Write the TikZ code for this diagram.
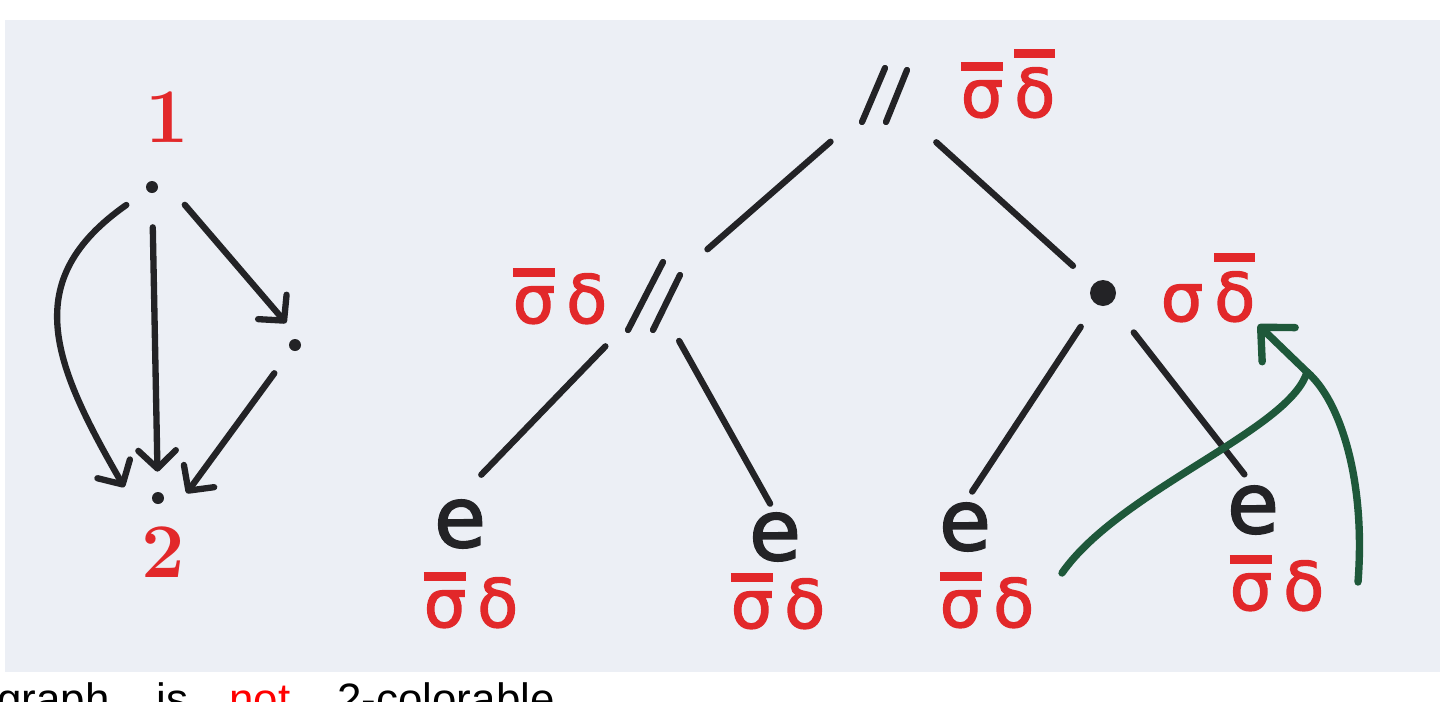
\documentclass[tikz,border=0pt]{standalone}
\usepackage{fontspec}
\newfontfamily\slidefont{Liberation Sans}
\newfontfamily\greekfont[FakeBold=2]{DejaVu Sans}
\usetikzlibrary{arrows.meta}
\definecolor{ink}{RGB}{35,35,38}
\definecolor{pen}{RGB}{226,40,42}
\definecolor{marker}{RGB}{30,88,58}
\definecolor{paper}{RGB}{236,239,245}
\definecolor{slidered}{RGB}{255,0,0}
% a glyph with a bar drawn over it
\newcommand\barglyph[1]{\setbox0=\hbox{#1}%
  \hbox{\rlap{\raisebox{\dimexpr\ht0+0.14em\relax}{\rule{\wd0}{0.13em}}}\box0}}
\tikzset{
  dot/.style={circle, fill=ink, inner sep=0pt, minimum size=0.24cm},
  bigdot/.style={circle, fill=ink, inner sep=0pt, minimum size=0.52cm},
  pair/.style={inner sep=0pt, minimum size=1.2cm},
  leaf/.style={inner sep=0pt, anchor=base, text=ink,
    font=\greekfont\fontsize{48}{48}\selectfont},
  redlab/.style={inner sep=0pt, anchor=base, text=pen,
    font=\greekfont\fontsize{38}{38}\selectfont},
  digit/.style={inner sep=0pt, anchor=base, text=pen,
    font=\fontsize{44}{44}\selectfont\bfseries},
  edge/.style={line width=3.6pt, draw=ink, line cap=round},
  arrow/.style={edge, -{Straight Barb[length=0.36cm, width=0.75cm, round]}},
  hint/.style={line width=4.2pt, draw=marker, line cap=round},
  hintarrow/.style={hint, -{Straight Barb[length=0.5cm, width=0.95cm, round]}},
  caption/.style={inner sep=0pt, anchor=base west,
    font=\slidefont\fontsize{25}{25}\selectfont},
}
\begin{document}
\begin{tikzpicture}[x=0.02cm, y=-0.02cm]

\path[use as bounding box, clip] (0,0) rectangle (1440,701);
\fill[white] (0,0) rectangle (1440,701);
\fill[paper] (5,20) rectangle (1440,672);

% --- Small graph ---
\node[dot] (v1) at (152,187) {};
\node[dot] (v3) at (295,345) {};
\node[dot] (v2) at (158,498) {};
\node[digit] (one) at (167,142) {1};
\node[digit] (two) at (163,577) {2};

\draw[arrow, shorten <=0.68cm, shorten >=0.4cm] (v1) -- (v2);
\draw[arrow, shorten <=0.47cm, shorten >=0.58cm] ([xshift=0.35cm]v1.center) -- ([xshift=0.2cm]v3.center);
\draw[arrow, shorten <=0.7cm, shorten >=0.12cm] (v3.center) -- ([xshift=0.5cm]v2.center);
\draw[arrow, shorten <=0.5cm, shorten >=0.25cm] (v1) to[out=215, in=120, looseness=1.3] ([xshift=-0.55cm]v2.center);

% --- Tree nodes ---
\node[pair] (root) at (884,95) {};
\draw[edge] ([shift={(-22,27)}]root.center) -- ([shift={(1,-27)}]root.center);
\draw[edge] ([shift={(2,27)}]root.center) -- ([shift={(23,-25)}]root.center);
\node[redlab] (rootlab) at (1008,117) {\barglyph{σ}\,\barglyph{δ}};

\node[pair] (lpar) at (654,296) {};
\draw[edge] ([shift={(-26,34)}]lpar.center) -- ([shift={(9,-34)}]lpar.center);
\draw[edge] ([shift={(-1,34)}]lpar.center) -- ([shift={(26,-21)}]lpar.center);
\node[redlab] (lparlab) at (560,323) {\barglyph{σ}\,δ};

\node[bigdot] (rdot) at (1103,293) {};
\node[redlab] (rdotlab) at (1208,321) {σ\,\barglyph{δ}};

% --- Leaves ---
\node[leaf] (e1) at (460,547) {e};
\node[leaf] (e2) at (775,560) {e};
\node[leaf] (e3) at (965,550) {e};
\node[leaf] (e4) at (1253,533) {e};

\node[redlab] (lab1) at (471,627) {\barglyph{σ}\,δ};
\node[redlab] (lab2) at (778,628) {\barglyph{σ}\,δ};
\node[redlab] (lab3) at (987,627) {\barglyph{σ}\,δ};
\node[redlab] (lab4) at (1277,610) {\barglyph{σ}\,δ};

% --- Tree edges ---
\draw[edge, shorten <=1.42cm, shorten >=1.42cm] (root.center) -- (lpar.center);
\draw[edge, shorten <=1.41cm, shorten >=0.81cm] (root.center) -- (rdot.center);
\draw[edge, shorten <=1.4cm, shorten >=1.37cm] (lpar.center) -- (e1.west);
\draw[edge, shorten <=1.03cm, shorten >=0.2cm] (lpar.center) -- (e2.north);
\draw[edge, shorten <=0.81cm, shorten >=0.26cm] (rdot.center) -- (e3.north);
\draw[edge, shorten <=1.0cm, shorten >=0.28cm] (rdot.center) -- (e4.north);

% --- Green hint ---
\coordinate (gstart3) at (1062,573);
\coordinate (gstart4) at (1358,582);
\coordinate (gmeet) at (1307,372);
\draw[hint] (gstart3) .. controls (1120,490) and (1290,430) .. (gmeet);
\draw[hint] (gstart4) .. controls (1366,480) and (1340,400) .. (gmeet);
\draw[hintarrow, shorten >=2pt] (gmeet) -- (rdotlab.south east);

% --- Slide text ---
\node[caption] (w1) at (-3,714) {graph};
\node[caption] (w2) at (156,714) {is};
\node[caption, text=slidered] (w3) at (229,714) {not};
\node[caption] (w4) at (337,714) {2-colorable};

\end{tikzpicture}
\end{document}
